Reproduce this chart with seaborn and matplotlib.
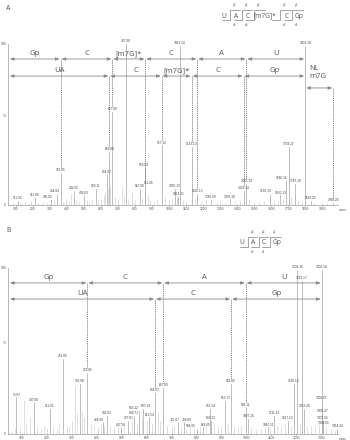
import matplotlib
matplotlib.use("Agg")
import matplotlib.pyplot as plt
import numpy as np
import pandas as pd
import seaborn as sns

# ---------------- Panel A data ----------------
a_lab_mass = [111.02, 211.00, 305.02, 344.04, 362.05, 442.02, 498.03, 569.11,
              634.07, 649.08, 667.09, 747.08, 827.08, 859.54, 861.06, 957.12,
              1035.13, 1054.21, 1063.14, 1133.10, 1166.13, 1246.09, 1358.18,
              1438.14, 1455.19, 1592.19, 1650.13, 1686.16, 1703.22, 1743.19,
              1801.20, 1833.26, 1966.26]
a_lab_int = [2.5, 4.5, 3, 7, 20, 9, 6, 10,
             19, 33, 58, 100, 10, 23, 12, 37,
             10, 5, 99, 36, 7, 3, 3.5,
             9, 13, 7, 6, 15, 36, 13,
             99, 2.5, 1.5]
a_bg_mass = [80, 125, 150, 175, 190, 230, 260, 280, 325, 375, 395, 410, 425, 455,
             470, 515, 530, 545, 585, 600, 615, 625, 640, 655, 680, 700, 723, 735,
             760, 782, 800, 840, 875, 890, 910, 930, 975, 1000, 1020, 1045, 1080,
             1100, 1150, 1190, 1220, 1280, 1300, 1330, 1390, 1420, 1470, 1500,
             1530, 1560, 1620, 1640, 1670, 1720, 1760, 1780, 1850, 1900, 1930]
a_bg_int = [1.5, 1, 2, 1.2, 2.5, 1.5, 2, 1, 3, 2, 4, 2.5, 7, 3,
            2, 3, 2, 4, 3, 4, 6, 8, 10, 12, 5, 3, 11, 6,
            4, 8, 3, 5, 6, 3, 2, 4, 5, 3, 4, 6, 3,
            2, 4, 2, 3, 1.5, 2, 1.5, 2, 3, 4, 2,
            2, 2.5, 3, 2.5, 4, 5, 3, 2, 1, 1, 1]
a_ticks = list(range(100, 2000, 100))
a_row1 = [58, 362.05, 667.09, 861.06, 1166.13, 1455.19, 1801.20]
a_row1_lab = ["Gp", "C", "[m7G]*", "C", "A", "U"]
a_row2 = [58, 649.08, 957.12, 1133.10, 1438.14, 1801.20]
a_row2_lab = ["UA", "C", "[m7G]*", "C", "Gp"]
a_nl = [1801.20, 1966.26]
a_nl_lab = "NL\nm7G"
a_seq = ["U", "A", "C", "[m7G]*", "C", "Gp"]
a_seq_y = ["y5", "y4", "y3", "y2", "y1"]
a_seq_c = ["c4", "c3", "", "c2", "c1"]

# ---------------- Panel B data ----------------
b_lab_mass = [76.97, 147.00, 211.01, 262.99, 332.98, 362.06, 424.00, 442.02,
              497.58, 527.01, 549.71, 569.12, 587.14, 611.54, 634.07, 667.09,
              725.07, 748.09, 804.05, 828.05, 856.14, 859.12, 916.17, 939.09,
              998.11, 1007.16, 1087.11, 1111.15, 1167.10, 1190.14, 1204.16,
              1222.17, 1233.24, 1302.18, 1303.07, 1305.47, 1307.56, 1308.03,
              1364.34]
b_lab_int = [22, 19, 15, 45, 30, 37, 7, 11,
             4, 8, 11, 14, 15, 10, 25, 28,
             7, 7, 3, 4, 15, 8, 20, 30,
             16, 9, 4, 11, 8, 30, 99,
             92, 15, 99, 20, 12, 8, 5,
             3]
b_bg_mass = [60, 70, 90, 108, 115, 132, 160, 175, 190, 200, 225, 240, 250, 280,
             290, 300, 312, 320, 340, 350, 375, 390, 405, 415, 430, 455, 470,
             485, 510, 540, 560, 580, 600, 620, 645, 655, 680, 700, 710, 740,
             760, 775, 790, 815, 840, 870, 885, 900, 925, 950, 965, 980, 1020,
             1040, 1060, 1075, 1095, 1125, 1140, 1155, 1180, 1215, 1245, 1260,
             1275, 1290, 1320, 1340, 1355]
b_bg_int = [2, 3, 4, 20, 6, 10, 4, 3, 5, 3, 4, 3, 6, 5,
            4, 8, 29, 12, 14, 10, 6, 5, 4, 6, 5, 4, 3,
            5, 6, 7, 6, 9, 8, 6, 12, 8, 5, 4, 5, 4,
            3, 4, 3, 4, 5, 6, 4, 5, 6, 5, 4, 5, 4,
            3, 3, 4, 3, 5, 4, 6, 5, 6, 4, 5,
            4, 6, 4, 3, 2]
b_ticks = list(range(100, 1400, 100))
b_row1 = [48, 362.06, 667.09, 998.11, 1302.18]
b_row1_lab = ["Gp", "C", "A", "U"]
b_row2 = [48, 634.07, 939.09, 1302.18]
b_row2_lab = ["UA", "C", "Gp"]
b_seq = ["U", "A", "C", "Gp"]
b_seq_y = ["y3", "y2", "y1"]
b_seq_c = ["c2", "c1", ""]

# label nudges (points) to keep neighbouring peak labels apart
A_NUDGE = {305.02: -2.0, 344.04: -2.0, 859.54: -1.0, 861.06: 2.5,
           1592.19: -3.0, 1650.13: 1.0, 1686.16: -3.0}
B_NUDGE = {569.12: -4.0, 587.14: 1.5, 725.07: -2.5, 748.09: 2.5,
           804.05: -4.5, 828.05: 1.5, 424.00: -2.5}

# ---------------- style ----------------
sns.set_theme(style="white")
plt.rcParams["font.family"] = ["Liberation Sans", "DejaVu Sans"]
TXT = "#555555"
LINE = "#8a8a8a"
SEGFONT = ["Open Sans", "DejaVu Sans"]

fig = plt.figure(figsize=(3.5, 4.4), dpi=100)
axA = fig.add_axes([8 / 350, 1 - 205 / 440, 330 / 350, 161 / 440])
axB = fig.add_axes([8 / 350, 1 - 434 / 440, 330 / 350, 166 / 440])


def stems_df(masses, ints, tag):
    rows = []
    for i, (m, h) in enumerate(zip(masses, ints)):
        rows.append((f"{tag}{i}", m, 0.0))
        rows.append((f"{tag}{i}", m, h))
    return pd.DataFrame(rows, columns=["peak", "mass", "intensity"])


def draw_panel(ax, lab_mass, lab_int, bg_mass, bg_int, ticks, xlim,
               rows, row_labels, row_y, nudge):
    sns.lineplot(data=stems_df(bg_mass, bg_int, "b"), x="mass", y="intensity",
                 units="peak", estimator=None, sort=False, color="#d2d2d2",
                 lw=0.5, ax=ax, legend=False)
    sns.lineplot(data=stems_df(lab_mass, lab_int, "l"), x="mass", y="intensity",
                 units="peak", estimator=None, sort=False, color="#b3b3b3",
                 lw=0.6, ax=ax, legend=False)
    for m, h in zip(lab_mass, lab_int):
        ax.annotate(f"{m:.2f}", xy=(m, h), xytext=(nudge.get(m, 0), 0.6),
                    textcoords="offset points", ha="center", va="bottom",
                    fontsize=2.3, color="#444444", annotation_clip=False)
    ax.set_xlim(*xlim)
    ax.set_ylim(0, 100)
    ax.set_xlabel("")
    ax.set_ylabel("")
    ax.set_xticks(ticks)
    ax.set_xticklabels([str(t) for t in ticks])
    ax.tick_params(axis="x", labelsize=2.4, colors=TXT, length=1.0, width=0.4,
                   pad=0.6, direction="out", bottom=True)
    ax.set_yticks([])
    for s in ["top", "right"]:
        ax.spines[s].set_visible(False)
    for s in ["left", "bottom"]:
        ax.spines[s].set_color("#9a9a9a")
        ax.spines[s].set_linewidth(0.5)
    ax.text(-0.006, 0, "0", transform=ax.transAxes, ha="right", va="center",
            fontsize=2.4, color=TXT)
    ax.text(-0.006, 1, "100", transform=ax.transAxes, ha="right", va="center",
            fontsize=2.4, color=TXT)
    ax.text(-0.006, 0.55, "%", transform=ax.transAxes, ha="right", va="center",
            fontsize=2.6, color=TXT)
    ax.text(1.015, -0.03, "mass", transform=ax.transAxes, ha="center",
            va="center", fontsize=2.4, color=TXT)
    ax.patch.set_alpha(0)

    peak_h = dict(zip(lab_mass, lab_int))
    for junctions, labels, y in zip(rows, row_labels, row_y):
        for x0, x1, lab in zip(junctions[:-1], junctions[1:], labels):
            ax.annotate("", xy=(x1, y), xytext=(x0, y),
                        arrowprops=dict(arrowstyle="<|-|>,head_length=0.45,head_width=0.18",
                                        color=LINE, lw=0.6, shrinkA=0.7,
                                        shrinkB=0.7, mutation_scale=5))
            ax.annotate(lab, xy=((x0 + x1) / 2, y), xytext=(0, 2.6),
                        textcoords="offset points", ha="center",
                        va="baseline", fontsize=5.5, color=TXT,
                        family=SEGFONT)
        for xj in junctions[1:-1]:
            ax.plot([xj, xj], [y, peak_h[xj] + 3], color="#666666", lw=0.55,
                    ls=(0, (1.4, 1.1)))


draw_panel(axA, a_lab_mass, a_lab_int, a_bg_mass, a_bg_int, a_ticks,
           (52.9, 1994), [a_row1, a_row2], [a_row1_lab, a_row2_lab],
           [90.7, 80.1], A_NUDGE)
draw_panel(axB, b_lab_mass, b_lab_int, b_bg_mass, b_bg_int, b_ticks,
           (43.8, 1368), [b_row1, b_row2], [b_row1_lab, b_row2_lab],
           [91.0, 81.3], B_NUDGE)

# neutral loss arrow (panel A)
axA.annotate("", xy=(a_nl[1], 72.7), xytext=(a_nl[0], 72.7),
             arrowprops=dict(arrowstyle="<|-|>,head_length=0.45,head_width=0.18",
                             color=LINE, lw=0.6, shrinkA=0.7, shrinkB=0.7,
                             mutation_scale=5))
axA.annotate(a_nl_lab, xy=(a_nl[0], 82.5), xytext=(3, 0),
             textcoords="offset points", ha="left", va="center",
             fontsize=5.5, color=TXT, family=SEGFONT, linespacing=1.25)
nl_h = dict(zip(a_lab_mass, a_lab_int))[a_nl[1]]
axA.plot([a_nl[1], a_nl[1]], [72.7, nl_h + 3], color="#666666", lw=0.55,
         ls=(0, (1.4, 1.1)))

# ---------------- overlay: panel letters and sequence diagrams ----------------
ov = fig.add_axes([0, 0, 1, 1])
ov.set_xlim(0, 350)
ov.set_ylim(440, 0)
ov.axis("off")
ov.text(8, 8, "A", fontsize=5, color=TXT, ha="center", va="center", family=SEGFONT)
ov.text(9, 231, "B", fontsize=5, color=TXT, ha="center", va="center", family=SEGFONT)


def seq_diagram(letters, centers, bounds, ylabs, clabs, yc, ytop, ybot, ylab_y, clab_y):
    for t, xc in zip(letters, centers):
        ov.text(xc, yc, t, fontsize=4.8, color=TXT, ha="center", va="center",
                family=SEGFONT)
    for i, xb in enumerate(bounds):
        left = centers[i] - 3.5
        right = centers[i + 1] + 4 if len(letters[i + 1]) < 3 else xb + 11
        ov.plot([max(left, xb - 8), xb, xb, min(right, xb + 11)],
                [ybot, ybot, ytop, ytop], color=LINE, lw=0.55)
        if ylabs[i]:
            ov.text(xb + 5, ylab_y, ylabs[i], fontsize=2.3, color=TXT,
                    ha="center", va="center")
        if clabs[i]:
            ov.text(xb + 5, clab_y, clabs[i], fontsize=2.3, color=TXT,
                    ha="center", va="center")


seq_diagram(a_seq, [224, 236, 248, 265, 287, 299], [230, 242, 254, 280, 292],
            a_seq_y, a_seq_c, 16, 10, 20.5, 5, 24.5)
seq_diagram(b_seq, [242, 253, 264, 277], [247.5, 258.5, 270],
            b_seq_y, b_seq_c, 243, 237, 247.5, 232, 252)

fig.savefig("out.png", dpi=100)
